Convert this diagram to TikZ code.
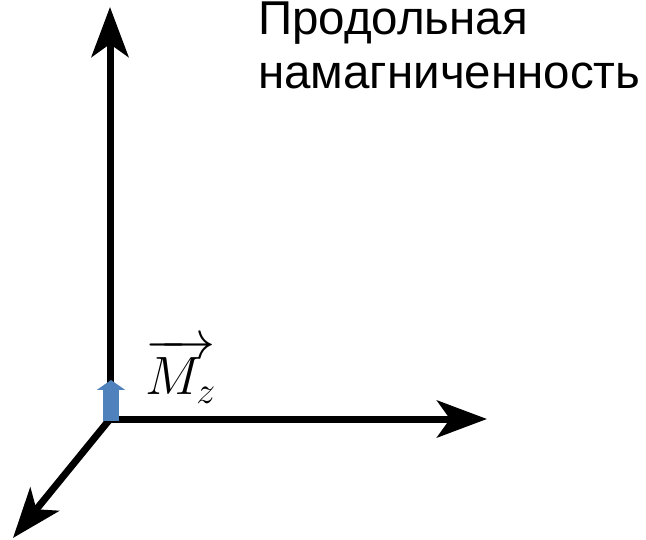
\RequirePackage{fix-cm}
\documentclass[tikz,border=0pt]{standalone}
\usepackage{amsmath}
\usepackage{fontspec}
\setmainfont{Liberation Sans}
\usetikzlibrary{arrows.meta,positioning}
\definecolor{mzblue}{RGB}{79,129,189}
\tikzset{axis/.style={line width=7pt,-{Stealth[length=50pt,width=37pt,inset=13pt]}},
  vec/.style={line width=16pt,draw=mzblue,-{Triangle[length=10pt,width=28pt]}}}

\begin{document}
\begin{tikzpicture}[x=1pt,y=-1pt,
  lbl/.style={font=\fontsize{47.5}{54}\selectfont,align=left,inner sep=0pt}]
\useasboundingbox (0,0) rectangle (646,540);
\coordinate (o) at (110,419);
\coordinate (ztip) at (110,7);
\coordinate (xtip) at (487,419);
\coordinate (ytip) at (13,538);
\draw[axis] (o) -- (ztip);
\draw[axis] (o) -- (xtip);
\draw[axis] (o) -- (ytip);
% blue Mz arrow at the origin
\coordinate (mztop) at (111,380);
\draw[vec] (111,421) -- (mztop);
\node[anchor=base west,inner sep=0pt,font=\fontsize{54}{60}\selectfont] (mz) at (145,395) {$\overrightarrow{M_z}$};
\node[lbl,anchor=north west] (title) at (258,1.5) {Продольная\\намагниченность};
\end{tikzpicture}
\end{document}
